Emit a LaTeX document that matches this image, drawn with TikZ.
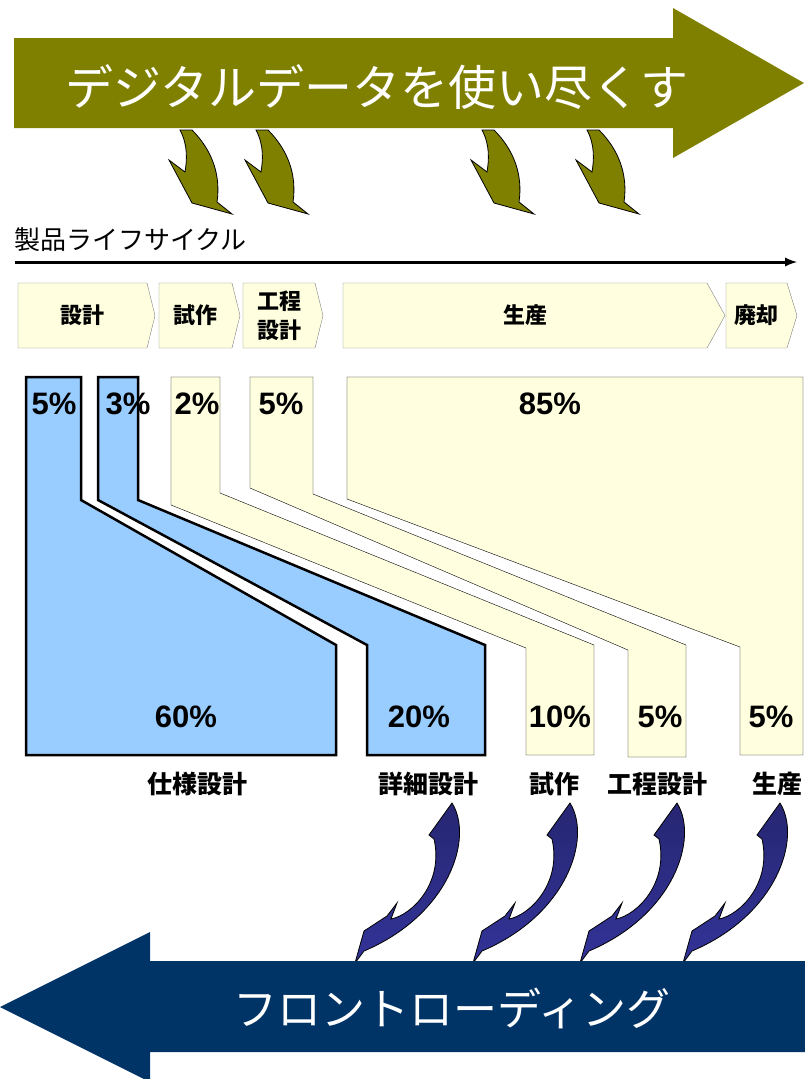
\documentclass[tikz,border=0pt]{standalone}
\usepackage{fontspec}
\setmainfont{Liberation Sans}
\newfontfamily\jp{Noto Sans CJK JP}
\usetikzlibrary{positioning}
\definecolor{olive80}{HTML}{808000}
\definecolor{navy}{HTML}{003366}
\definecolor{lightyel}{HTML}{FFFFE0}
\definecolor{skyblue}{HTML}{99CCFF}
\definecolor{ribbon}{HTML}{333399}

\begin{document}
\begin{tikzpicture}[x=1pt, y=-1pt,
  basic/.style  = {inner sep=0pt, font=\jp\bfseries\fontsize{22}{29}\selectfont},
  phase/.style  = {draw=gray, fill=lightyel, thin},
  share/.style  = {draw=black, fill=lightyel, thin},
  design/.style = {draw=black, fill=skyblue, line width=2.5pt},
  pct/.style    = {inner sep=0pt, font=\bfseries\fontsize{31}{31}\selectfont},
  stage/.style  = {inner sep=0pt, font=\jp\bfseries\fontsize{25}{25}\selectfont},
  banner/.style = {inner sep=0pt, text=white, font=\jp\fontsize{48}{48}\selectfont},
  digi/.style   = {draw=black, fill=olive80, line width=0.8pt},
  front/.style  = {draw=black, top color=ribbon!75!black, bottom color=ribbon, line width=0.8pt},
  >=latex]

\useasboundingbox (0,0) rectangle (805,1079);

% small curved arrows below the upper banner
\foreach \xa in {180,256,482,587}
  \draw[digi, shift={(\xa,130)}] (0,0) .. controls (8,15) and (7,30) .. (5,42)
    -- (-11,30) -- (12,73) -- (52,84) -- (37,72)
    .. controls (41,45) and (32,20) .. (12,0) -- cycle;

% upper banner
\fill[olive80] (14,38) -- (673,38) -- (673,8) -- (804,83) -- (673,158) -- (673,128) -- (14,128) -- cycle;
\node[banner] (digital) at (377,87) {デジタルデータを使い尽くす};

% product life cycle
\node[inner sep=0pt, anchor=west, font=\jp\fontsize{26}{26}\selectfont] (cycle) at (14,240) {製品ライフサイクル};
\coordinate (lc-start) at (15,262);
\coordinate (lc-end) at (797,262);
\draw[->, line width=3pt] (lc-start) -- (lc-end);

\foreach \xa/\xb/\xc/\n/\txt in {18/147/155/p1/設計, 159/232/240/p2/試作,
    243/315/323/p3/{工程\\設計}, 343/707/725/p4/生産, 726/787/797/p5/廃却} {
  \draw[phase] (\xa,283) -- (\xb,283) -- (\xc,315.5) -- (\xb,348) -- (\xa,348) -- cycle;
  \node[basic, align=center] (\n) at ({(\xa+\xb)/2},315.5) {\txt};
}

% cost shares: committed (top) vs. spent (bottom)
\draw[design] (26,377) -- (81,377) -- (81,500) -- (336,645) -- (336,755) -- (26,755) -- cycle;
\draw[design] (98,377) -- (138,377) -- (138,500) -- (485,645) -- (485,755) -- (367,755) -- (367,645) -- (98,500) -- cycle;
\draw[share] (171,377) -- (220,377) -- (220,493) -- (594,645) -- (594,755) -- (526,755) -- (526,648) -- (171,505) -- cycle;
\draw[share] (250,377) -- (313,377) -- (313,494) -- (686,645) -- (686,757) -- (628,757) -- (628,650) -- (250,488) -- cycle;
\draw[share] (347,377) -- (803,377) -- (803,755) -- (740,755) -- (740,647) -- (347,499) -- cycle;

\node[pct] (t1) at (54,404) {5\%};
\node[pct] (t2) at (128,404) {3\%};
\node[pct] (t3) at (197,404) {2\%};
\node[pct] (t4) at (281,404) {5\%};
\node[pct] (t5) at (550,404) {85\%};

\node[pct] (b1) at (186,717) {60\%};
\node[pct] (b2) at (419,717) {20\%};
\node[pct] (b3) at (560,717) {10\%};
\node[pct] (b4) at (660,717) {5\%};
\node[pct] (b5) at (771,717) {5\%};

\node[stage] (s1) at (197,784) {仕様設計};
\node[stage] (s2) at (428,784) {詳細設計};
\node[stage] (s3) at (554,784) {試作};
\node[stage] (s4) at (657,784) {工程設計};
\node[stage] (s5) at (777,784) {生産};

% ribbons down into the lower banner
\foreach \xa in {452,570,677,780}
  \draw[front, shift={(\xa,803)}] (0,0) .. controls (22,35) and (-3,112) .. (-88,148)
    -- (-97,160) -- (-88,128) -- (-65,113) -- (-55,100) -- (-61,116)
    .. controls (-40,112) and (-8,80) .. (-18,36) -- (-23,32) -- cycle;

% lower banner
\fill[navy] (805,961) -- (150,961) -- (150,932) -- (0,1007) -- (150,1082) -- (150,1052) -- (805,1052) -- cycle;
\node[banner, font=\jp\fontsize{44}{44}\selectfont] (front) at (452,1008) {フロントローディング};

\end{tikzpicture}
\end{document}
